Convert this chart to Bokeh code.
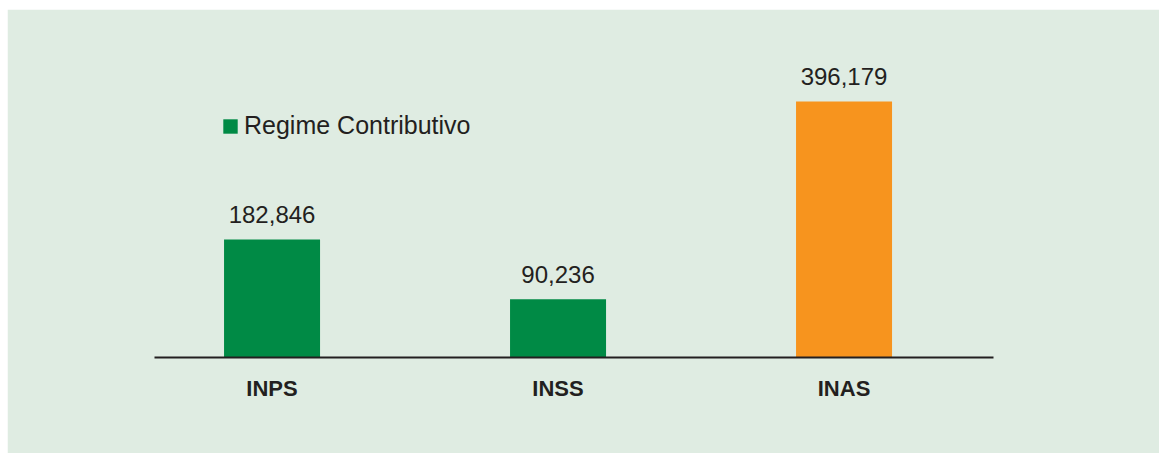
from bokeh.plotting import figure
from bokeh.models import ColumnDataSource, Range1d, Legend, LegendItem, FixedTicker, Spacer
from bokeh.layouts import column, row
from bokeh.core.properties import value
from bokeh.embed import file_html
from bokeh.resources import INLINE

categories = ["INPS", "INSS", "INAS"]
values = [182846, 90236, 396179]
series_name = "Regime Contributivo"

green_idx = [0, 1]
orange_idx = [2]

BG = "#dfece2"
GREEN = "#008a45"
ORANGE = "#f7941e"
TEXT = "#231f20"

def fmt(v):
    return f"{v:,}"

src_green = ColumnDataSource(dict(
    x=[i for i in green_idx],
    top=[values[i] for i in green_idx],
    label=[fmt(values[i]) for i in green_idx],
))
src_orange = ColumnDataSource(dict(
    x=[i for i in orange_idx],
    top=[values[i] for i in orange_idx],
    label=[fmt(values[i]) for i in orange_idx],
))

p = figure(width=1152, height=444, output_backend="svg", toolbar_location=None,
           x_range=Range1d(-0.411, 2.5226), y_range=Range1d(0, 489200),
           min_border_left=147, min_border_right=166, min_border_top=32,
           min_border_bottom=96)
p.background_fill_color = BG
p.border_fill_color = BG
p.outline_line_color = BG
p.outline_line_width = 2
p.grid.visible = False
p.yaxis.visible = False

r_green = p.vbar(x="x", top="top", width=0.3357, bottom=0, source=src_green,
                 fill_color=GREEN, line_color=None)
p.vbar(x="x", top="top", width=0.3357, bottom=0, source=src_orange,
       fill_color=ORANGE, line_color=None)

for s in (src_green, src_orange):
    p.text(x="x", y="top", text="label", source=s, text_align="center",
           text_baseline="alphabetic", y_offset=-25, text_color=TEXT,
           text_font=value("Liberation Sans"), text_font_size="24px")

ax = p.xaxis[0]
ax.ticker = FixedTicker(ticks=list(range(len(categories))))
ax.major_label_overrides = {i: c for i, c in enumerate(categories)}
ax.axis_line_width = 2
ax.axis_line_color = TEXT
ax.major_tick_line_color = None
ax.minor_tick_line_color = None
ax.major_tick_out = 0
ax.major_tick_in = 0
ax.major_label_standoff = 18
ax.major_label_text_font = "Liberation Sans"
ax.major_label_text_font_style = "bold"
ax.major_label_text_font_size = "22px"
ax.major_label_text_color = TEXT

legend = Legend(items=[LegendItem(label=series_name, renderers=[r_green])],
                location=(67, 217), padding=0, margin=0, spacing=0,
                glyph_width=18, glyph_height=18, label_height=18,
                label_standoff=5, border_line_color=None,
                background_fill_alpha=0,
                label_text_font="Liberation Sans", label_text_font_size="25px",
                label_text_color=TEXT)
p.add_layout(legend)

page = column(Spacer(height=9), row(Spacer(width=7), p))

open("out.html", "w").write(file_html(page, INLINE))
